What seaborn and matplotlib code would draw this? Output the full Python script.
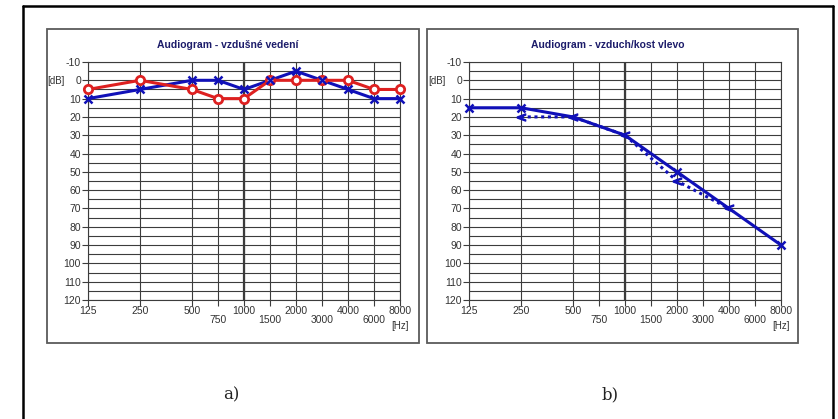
import numpy as np
import pandas as pd
import matplotlib
matplotlib.use("Agg")
import matplotlib.pyplot as plt
from matplotlib.patches import Rectangle
from matplotlib.lines import Line2D
import seaborn as sns

# ---------------------------------------------------------------- data
freqs = [125, 250, 500, 750, 1000, 1500, 2000, 3000, 4000, 6000, 8000]
octave_freqs = [125, 250, 500, 1000, 2000, 4000, 8000]
half_freqs = [750, 1500, 3000, 6000]

# a) air conduction, both ears
right_ear_db = [5, 0, 5, 10, 10, 0, 0, 0, 0, 5, 5]        # red, circles
left_ear_db = [10, 5, 0, 0, 5, 0, -5, 0, 5, 10, 10]       # blue, crosses

# b) left ear, air vs bone
air_freqs = [125, 250, 500, 1000, 2000, 4000, 8000]
air_db = [15, 15, 20, 30, 50, 70, 90]
bone_freqs = [250, 500, 1000, 2000, 4000]
bone_db = [20, 20, 30, 55, 70]

titles = ["Audiogram - vzdušné vedení", "Audiogram - vzduch/kost vlevo"]
panel_labels = ["a)", "b)"]

sns.set_style("white")
plt.rcParams['font.family'] = ['Liberation Sans', 'DejaVu Sans']
plt.rcParams['axes.unicode_minus'] = False

W, H = 838, 419


def oct_pos(f):
    # audiogram axis: octaves evenly spaced, half-octaves in the middle
    return np.round(2 * np.log2(np.asarray(f) / 125.0)) / 2


def fx(x):
    return x / W


def fy(y):
    return 1 - y / H


grid_col = "#3c3c3c"
blue = "#1010b8"
red = "#dd2020"

fig = plt.figure(figsize=(W / 100, H / 100), dpi=100)

# outer black frame
for xs, ys in [([23, 23], [419, 6]), ([23, 833], [6, 6]), ([833, 833], [6, 419])]:
    fig.add_artist(Line2D([fx(v) for v in xs], [fy(v) for v in ys],
                          transform=fig.transFigure, color="black", lw=1.8))

boxes = [(47, 419), (427, 798)]
ax_left = [88, 469]

axes = []
for i in range(2):
    bx0, bx1 = boxes[i]
    fig.add_artist(Rectangle((fx(bx0), fy(343)), fx(bx1 - bx0), (343 - 29) / H,
                             transform=fig.transFigure, fill=False,
                             ec="#5a5a5a", lw=1.3))
    ax = fig.add_axes([fx(ax_left[i]), fy(300), fx(312), (300 - 62) / H])
    axes.append(ax)

    ax.set_xlim(0, 6)
    ax.set_ylim(120, -10)
    ax.set_yticks(np.arange(-10, 121, 10))
    ax.set_yticks(np.arange(-5, 120, 10), minor=True)
    ax.set_xticks(oct_pos(octave_freqs))
    ax.set_xticklabels([str(f) for f in octave_freqs])
    ax.set_xticks(oct_pos(half_freqs), minor=True)
    ax.set_xticklabels([str(f) for f in half_freqs], minor=True)

    ax.grid(True, which="both", color=grid_col, lw=0.8)
    ax.axvline(oct_pos(1000), color=grid_col, lw=1.6, zorder=1)
    for s in ax.spines.values():
        s.set_color(grid_col)
        s.set_linewidth(0.8)

    ax.tick_params(axis="x", which="both", length=4, width=0.8, color=grid_col,
                   labelsize=7.5, labelcolor="#333333", direction="out", bottom=True)
    ax.tick_params(axis="x", which="major", pad=0.5)
    ax.tick_params(axis="x", which="minor", pad=7)
    ax.tick_params(axis="y", which="major", length=4, width=0.8, color=grid_col,
                   labelsize=7.5, labelcolor="#333333", pad=1, left=True)
    ax.tick_params(axis="y", which="minor", length=0)

    cx = (bx0 + bx1) / 2 - 5
    fig.text(fx(cx), fy(45), titles[i], ha="center", va="center",
             fontsize=7.5, fontweight="bold", color="#1c1c6a")
    fig.text(fx(ax_left[i] - 32), fy(81), "[dB]", ha="center", va="center",
             fontsize=7, color="#333333")
    fig.text(fx(ax_left[i] + 312), fy(326), "[Hz]", ha="center", va="center",
             fontsize=7, color="#333333")
    fig.text(fx(cx + 3), fy(395), panel_labels[i], ha="center", va="center",
             fontsize=12, color="#222222", family=["DejaVu Serif"])

# a) both ears air conduction
df_a = pd.DataFrame({"pos": oct_pos(freqs), "right": right_ear_db, "left": left_ear_db})
sns.lineplot(data=df_a, x="pos", y="right", ax=axes[0], color=red, lw=2.2,
             marker="o", markersize=6, markerfacecolor="white", markeredgecolor=red,
             markeredgewidth=2, clip_on=False, zorder=4)
sns.lineplot(data=df_a, x="pos", y="left", ax=axes[0], color=blue, lw=2.2,
             clip_on=False, zorder=3)
axes[0].plot(df_a["pos"], df_a["left"], ls="none", marker="x", markersize=5.5,
             markeredgewidth=1.8, color=blue, clip_on=False, zorder=5)

# b) left ear air vs bone
df_air = pd.DataFrame({"pos": oct_pos(air_freqs), "db": air_db})
df_bone = pd.DataFrame({"pos": oct_pos(bone_freqs), "db": bone_db})
sns.lineplot(data=df_air, x="pos", y="db", ax=axes[1], color=blue, lw=2.2,
             clip_on=False, zorder=3)
show_air = [f in (125, 250, 2000, 8000) for f in air_freqs]
axes[1].plot(df_air["pos"][show_air], df_air["db"][show_air], ls="none", marker="x",
             markersize=5.5, markeredgewidth=1.8, color=blue, clip_on=False, zorder=5)
sns.lineplot(data=df_bone, x="pos", y="db", ax=axes[1], color=blue, lw=2.2,
             ls=(0, (1, 1.2)), clip_on=False, zorder=4)
axes[1].plot(df_bone["pos"], df_bone["db"], ls="none", marker="$<$", markersize=6,
             color=blue, clip_on=False, zorder=5)

for ax in axes:
    ax.set_xlabel("")
    ax.set_ylabel("")

fig.savefig("out.png", dpi=100)
